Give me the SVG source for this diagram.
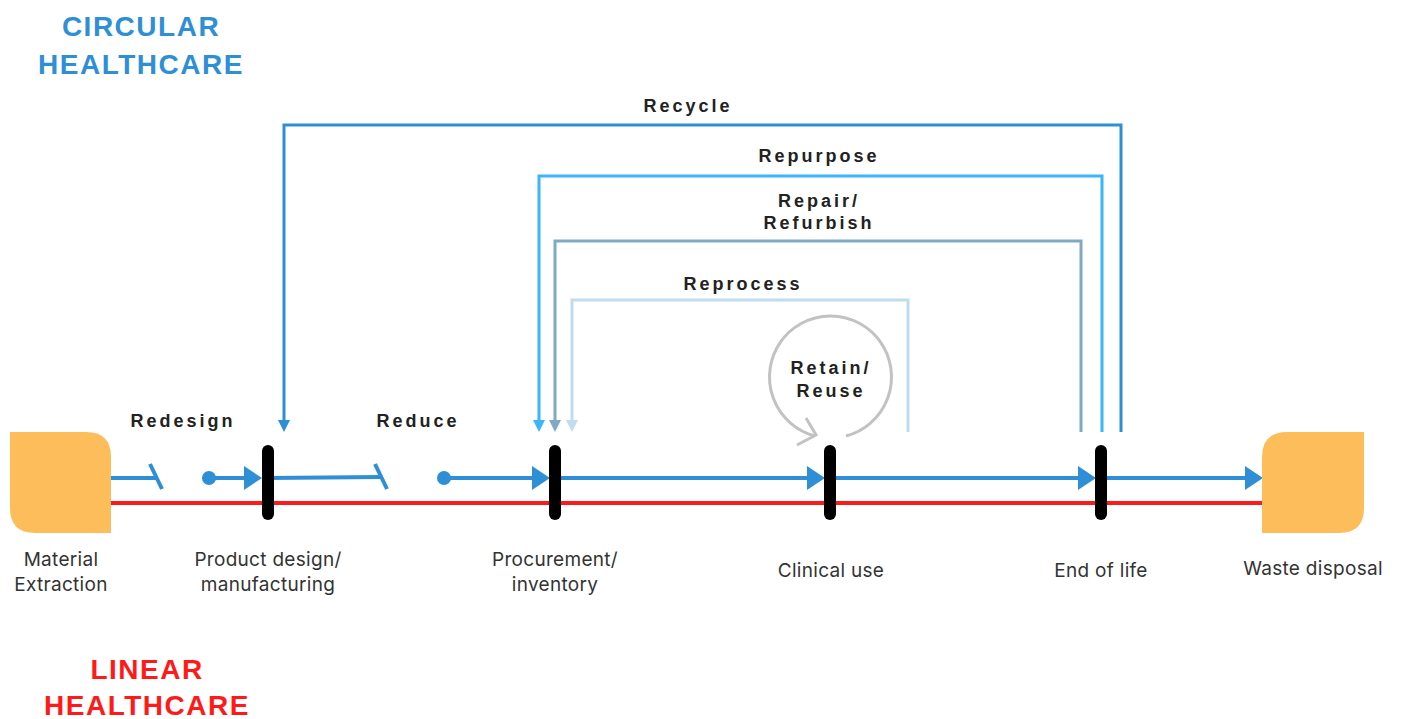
<svg xmlns="http://www.w3.org/2000/svg" width="1402" height="719" viewBox="0 0 1402 719">
<defs>
<style>
.title{font-family:"Liberation Sans",Arial,sans-serif;font-weight:bold;font-size:28px;text-anchor:middle;letter-spacing:1.5px}
.lbl{font-family:"Liberation Sans",Arial,sans-serif;font-weight:bold;font-size:18px;fill:#222;text-anchor:middle;letter-spacing:3px}
.nl{font-family:"Inter","Liberation Sans",sans-serif;font-size:19px;fill:#333;text-anchor:middle;letter-spacing:0.3px}
.blue{stroke:#2e8fd6;stroke-width:4;fill:none}
.bar{stroke:#000;stroke-width:12;stroke-linecap:round}
.box{fill:#fdbd5b}
</style>
</defs>
<rect width="1402" height="719" fill="#fff"/>
<text class="title" x="141" y="36" fill="#2e8fd6">CIRCULAR</text>
<text class="title" x="141" y="74" fill="#2e8fd6">HEALTHCARE</text>
<text class="title" x="147" y="679" fill="#ff1a1a">LINEAR</text>
<text class="title" x="147" y="715" fill="#ff1a1a">HEALTHCARE</text>

<g id="connectors">
<line x1="111" y1="503" x2="1262" y2="503" stroke="#ff1a1a" stroke-width="4"/>
<line class="blue" x1="111" y1="478" x2="156" y2="478"/>
<line class="blue" x1="150" y1="464" x2="162" y2="489"/>
<circle cx="209" cy="478" r="7" fill="#2e8fd6"/>
<path d="M209,478 H245" class="blue"/><path d="M244,466 L262,478 L244,490 Z" fill="#2e8fd6"/>
<path d="M268,478 L381,477" class="blue"/>
<line class="blue" x1="375" y1="464" x2="387" y2="489"/>
<circle cx="444" cy="478" r="7" fill="#2e8fd6"/>
<path d="M444,478 H533" class="blue"/><path d="M532,466 L550,478 L532,490 Z" fill="#2e8fd6"/>
<path d="M555,478 H808" class="blue"/><path d="M807,466 L825,478 L807,490 Z" fill="#2e8fd6"/>
<path d="M830,478 H1079" class="blue"/><path d="M1078,466 L1096,478 L1078,490 Z" fill="#2e8fd6"/>
<path d="M1101,478 H1246" class="blue"/><path d="M1245,466 L1263,478 L1245,490 Z" fill="#2e8fd6"/>

<path d="M1121,432 V125 H284 V422" fill="none" stroke="#2e8fd6" stroke-width="3"/>
<path d="M278,420 L284,432 L290,420 Z" fill="#2e8fd6"/>
<path d="M1102,432 V176 H539 V422" fill="none" stroke="#3bb6f8" stroke-width="3"/>
<path d="M533,420 L539,432 L545,420 Z" fill="#3bb6f8"/>
<path d="M1081,432 V241 H555 V422" fill="none" stroke="#7eaac6" stroke-width="3"/>
<path d="M549,420 L555,432 L561,420 Z" fill="#7eaac6"/>
<path d="M908,432 V300 H572 V422" fill="none" stroke="#c0dcef" stroke-width="3"/>
<path d="M566,420 L572,432 L578,420 Z" fill="#c0dcef"/>

<path d="M846,436 A61,61 0 1 0 815,436" fill="none" stroke="#c2c2c2" stroke-width="3"/>
<path d="M806,418 L816,435 L797,445" fill="none" stroke="#c2c2c2" stroke-width="3"/>
</g>

<g id="material"><path class="box" d="M10,432 H86 Q111,432 111,457 V533 H35 Q10,533 10,508 Z"/>
<text class="nl" x="61" y="566">Material</text><text class="nl" x="61" y="591">Extraction</text></g>
<g id="waste"><path class="box" d="M1287,432 H1364 V508 Q1364,533 1339,533 H1262 V457 Q1262,432 1287,432 Z"/>
<text class="nl" x="1313" y="575">Waste disposal</text></g>
<g id="product"><line class="bar" x1="268" y1="451" x2="268" y2="514"/>
<text class="nl" x="268" y="566">Product design/</text><text class="nl" x="268" y="591">manufacturing</text></g>
<g id="procurement"><line class="bar" x1="555" y1="451" x2="555" y2="514"/>
<text class="nl" x="555" y="566">Procurement/</text><text class="nl" x="555" y="591">inventory</text></g>
<g id="clinical"><line class="bar" x1="830" y1="451" x2="830" y2="514"/>
<text class="nl" x="831" y="577">Clinical use</text></g>
<g id="endoflife"><line class="bar" x1="1101" y1="451" x2="1101" y2="514"/>
<text class="nl" x="1101" y="577">End of life</text></g>

<g id="labels">
<text class="lbl" x="688" y="112">Recycle</text>
<text class="lbl" x="819" y="162">Repurpose</text>
<text class="lbl" x="819" y="207">Repair/</text>
<text class="lbl" x="819" y="229">Refurbish</text>
<text class="lbl" x="743" y="290">Reprocess</text>
<text class="lbl" x="183" y="427">Redesign</text>
<text class="lbl" x="418" y="427">Reduce</text>
<text class="lbl" x="831" y="374">Retain/</text>
<text class="lbl" x="831" y="397">Reuse</text>
</g>
</svg>
